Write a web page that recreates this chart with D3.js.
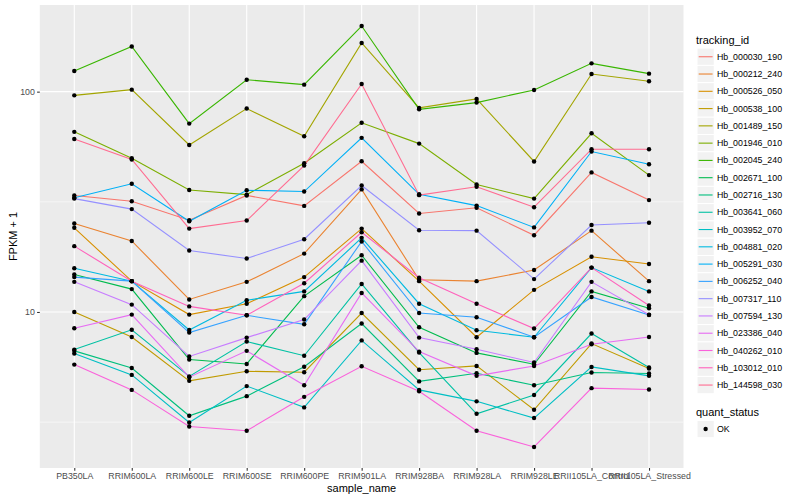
<!DOCTYPE html>
<html>
<head>
<meta charset="utf-8">
<script src="https://cdn.jsdelivr.net/npm/d3@7"></script>
<style>
body{margin:0;background:#fff}
text{font-family:"Liberation Sans",Arial,Helvetica,sans-serif}
</style>
</head>
<body>
<div id="chart"></div>
<script>
// sample names on the x axis
var samples=["PB350LA","RRIM600LA","RRIM600LE","RRIM600SE","RRIM600PE","RRIM901LA","RRIM928BA","RRIM928LA","RRIM928LE","RRII105LA_Control","RRII105LA_Stressed"]

var trackingIds=["Hb_000030_190","Hb_000212_240","Hb_000526_050","Hb_000538_100","Hb_001489_150","Hb_001946_010","Hb_002045_240","Hb_002671_100","Hb_002716_130","Hb_003641_060","Hb_003952_070","Hb_004881_020","Hb_005291_030","Hb_006252_040","Hb_007317_110","Hb_007594_130","Hb_023386_040","Hb_040262_010","Hb_103012_010","Hb_144598_030"]

// FPKM + 1, one array per gene, same order as samples
var hb000030_190=[33.8,31.8,26.1,33.8,30.3,48.3,28.0,29.7,22.3,43.0,32.2]
var hb000212_240=[25.2,21.0,11.4,13.7,18.4,36.0,14.0,13.8,15.5,23.4,13.8]
var hb000526_050=[24.1,13.8,9.73,10.9,14.4,23.9,13.8,7.68,12.6,17.8,16.5]
var hb000538_100=[10.0,7.70,4.87,5.38,5.33,9.89,5.47,5.69,3.60,7.19,5.54]
var hb001489_150=[96.2,102.1,57.3,83.8,62.7,166.3,84.4,92.7,48.2,120.3,111.4]
var hb001946_010=[65.7,49.9,35.8,34.1,47.3,72.2,58.1,37.9,32.7,64.7,41.8]
var hb002045_240=[124.1,160.4,71.6,113.3,107.6,198.5,83.1,89.2,101.8,134.4,120.7]
var hb002671_100=[14.8,12.7,6.08,5.81,11.8,18.1,8.52,6.52,5.79,12.4,10.4]
var hb002716_130=[6.66,5.57,3.38,4.15,5.64,8.86,4.84,5.27,4.65,5.31,5.26]
var hb003641_060=[6.75,8.30,5.10,7.34,6.33,13.4,6.54,3.45,4.20,7.98,5.60]
var hb003952_070=[6.48,5.18,3.15,4.61,3.69,7.43,4.43,3.93,3.30,5.63,5.13]
var hb004881_020=[15.8,13.8,8.28,11.3,12.4,21.7,10.9,8.26,7.68,15.9,12.4]
var hb005291_030=[33.0,38.2,25.8,35.7,35.2,61.7,34.2,30.4,24.2,53.5,46.8]
var hb006252_040=[14.4,13.8,8.06,9.66,8.79,20.9,9.89,9.46,7.68,11.7,9.69]
var hb007317_110=[32.7,29.3,19.0,17.5,21.4,37.5,23.5,23.4,14.1,24.8,25.4]
var hb007594_130=[13.7,10.8,6.28,7.65,9.24,17.1,7.65,6.77,5.90,13.7,9.72]
var hb023386_040=[8.43,9.73,5.06,6.66,4.65,12.2,6.61,5.13,5.69,7.14,7.70]
var hb040262_010=[5.77,4.43,3.02,2.89,4.12,5.67,4.37,2.89,2.44,4.51,4.45]
var hb103012_010=[19.9,13.8,10.6,9.66,13.5,23.0,14.3,10.9,8.41,15.9,10.7]
var hb144598_030=[61.0,49.2,23.9,26.0,46.2,108.4,33.9,37.0,29.9,54.8,54.8]

var quantStatus=["OK"]
var yMajor=[10,100]
var yMinor=[3.162,31.62]

var seriesValues=[hb000030_190,hb000212_240,hb000526_050,hb000538_100,hb001489_150,hb001946_010,hb002045_240,hb002671_100,hb002716_130,hb003641_060,hb003952_070,hb004881_020,hb005291_030,hb006252_040,hb007317_110,hb007594_130,hb023386_040,hb040262_010,hb103012_010,hb144598_030]

var series=trackingIds.map((id,i)=>({
    id:id,
    values:samples.map((s,j)=>({sample:s, value:seriesValues[i][j]}))
}))

// ggplot hue palette, 20 levels
var palette=["#F8766D","#EA8331","#D89000","#C09B00","#A3A500","#7CAE00","#39B600","#00BB4E","#00BF7D","#00C1A3","#00BFC4","#00BAE0","#00B0F6","#35A2FF","#9590FF","#C77CFF","#E76BF3","#FA62DB","#FF62BC","#FF6C91"]

var svgWidth=800
var svgHeight=500
var panel={left:39.8, right:683.5, top:5, bottom:468}

var svg=d3.select("#chart")
    .append("svg")
    .attr("width", svgWidth)
    .attr("height", svgHeight)

svg.append("rect").attr("width", svgWidth).attr("height", svgHeight).attr("fill", "white")

var xScale=d3.scalePoint()
    .domain(samples)
    .range([panel.left, panel.right])
    .padding(0.6)

var allValues=d3.merge(seriesValues)
var lo=Math.log10(d3.min(allValues)), hi=Math.log10(d3.max(allValues))
var pad=(hi-lo)*0.05
var yScale=d3.scaleLog()
    .domain([Math.pow(10,lo-pad), Math.pow(10,hi+pad)])
    .range([panel.bottom, panel.top])

var color=d3.scaleOrdinal().domain(trackingIds).range(palette)

// panel background + grid
svg.append("rect")
    .attr("x", panel.left).attr("y", panel.top)
    .attr("width", panel.right-panel.left).attr("height", panel.bottom-panel.top)
    .attr("fill", "#EBEBEB")

svg.append("g").selectAll("line").data(yMinor).enter().append("line")
    .attr("x1", panel.left).attr("x2", panel.right)
    .attr("y1", d=>yScale(d)).attr("y2", d=>yScale(d))
    .attr("stroke", "white").attr("stroke-width", 0.55)

svg.append("g").selectAll("line").data(yMajor).enter().append("line")
    .attr("x1", panel.left).attr("x2", panel.right)
    .attr("y1", d=>yScale(d)).attr("y2", d=>yScale(d))
    .attr("stroke", "white").attr("stroke-width", 1.1)

svg.append("g").selectAll("line").data(samples).enter().append("line")
    .attr("x1", d=>xScale(d)).attr("x2", d=>xScale(d))
    .attr("y1", panel.top).attr("y2", panel.bottom)
    .attr("stroke", "white").attr("stroke-width", 1.1)

// lines then points
var line=d3.line()
    .x(d=>xScale(d.sample))
    .y(d=>yScale(d.value))

svg.append("g").selectAll("path").data(series).enter().append("path")
    .attr("d", d=>line(d.values))
    .attr("fill", "none")
    .attr("stroke", d=>color(d.id))
    .attr("stroke-width", 1.1)

svg.append("g").selectAll("g").data(series).enter().append("g")
    .selectAll("circle").data(d=>d.values).enter().append("circle")
    .attr("cx", d=>xScale(d.sample))
    .attr("cy", d=>yScale(d.value))
    .attr("r", 2.2)
    .attr("fill", "black")

// axes
var bottomAxis=d3.axisBottom(xScale).tickSize(2.7).tickPadding(2.5)
var leftAxis=d3.axisLeft(yScale).tickValues(yMajor).tickFormat(d3.format("d")).tickSize(2.7).tickPadding(2.2)

var gx=svg.append("g").attr("transform", `translate(0, ${panel.bottom})`).call(bottomAxis)
var gy=svg.append("g").attr("transform", `translate(${panel.left}, 0)`).call(leftAxis)
;[gx,gy].forEach(g=>{
    g.select(".domain").remove()
    g.selectAll(".tick line").attr("stroke", "#333333").attr("stroke-width", 1.07)
    g.selectAll(".tick text").attr("fill", "#4D4D4D").attr("font-size", 8.8)
        .attr("font-family", "Liberation Sans, Arial, sans-serif")
})

svg.append("text")
    .attr("x", (panel.left+panel.right)/2).attr("y", 492)
    .attr("text-anchor", "middle").attr("font-size", 11).attr("fill", "black")
    .text("sample_name")

svg.append("text")
    .attr("transform", `translate(16.5, ${(panel.top+panel.bottom)/2}) rotate(-90)`)
    .attr("text-anchor", "middle").attr("font-size", 11).attr("fill", "black")
    .text("FPKM + 1")

// legend: tracking_id
var keySize=17.28
var legendX=697
var legend=svg.append("g")
legend.append("text").attr("x", 696).attr("y", 43.5).attr("font-size", 11).text("tracking_id")

var items=legend.selectAll("g.item").data(trackingIds).enter().append("g")
    .attr("transform", (d,i)=>`translate(${legendX}, ${48.1+i*keySize})`)
items.append("rect").attr("width", keySize).attr("height", keySize)
    .attr("fill", "#F2F2F2").attr("stroke", "white").attr("stroke-width", 1)
items.append("line")
    .attr("x1", 1.7).attr("x2", keySize-1.7)
    .attr("y1", keySize/2).attr("y2", keySize/2)
    .attr("stroke", d=>color(d)).attr("stroke-width", 1.1)
items.append("text")
    .attr("x", keySize+2.7).attr("y", keySize/2).attr("dy", "0.35em")
    .attr("font-size", 8.8).text(d=>d)

// legend: quant_status
legend.append("text").attr("x", 696).attr("y", 415.5).attr("font-size", 11).text("quant_status")
var qItems=legend.selectAll("g.q").data(quantStatus).enter().append("g")
    .attr("transform", (d,i)=>`translate(${legendX}, ${420.4+i*keySize})`)
qItems.append("rect").attr("width", keySize).attr("height", keySize)
    .attr("fill", "#F2F2F2").attr("stroke", "white").attr("stroke-width", 1)
qItems.append("circle").attr("cx", keySize/2).attr("cy", keySize/2).attr("r", 2.2).attr("fill", "black")
qItems.append("text")
    .attr("x", keySize+2.7).attr("y", keySize/2).attr("dy", "0.35em")
    .attr("font-size", 8.8).text(d=>d)
</script>
</body>
</html>
